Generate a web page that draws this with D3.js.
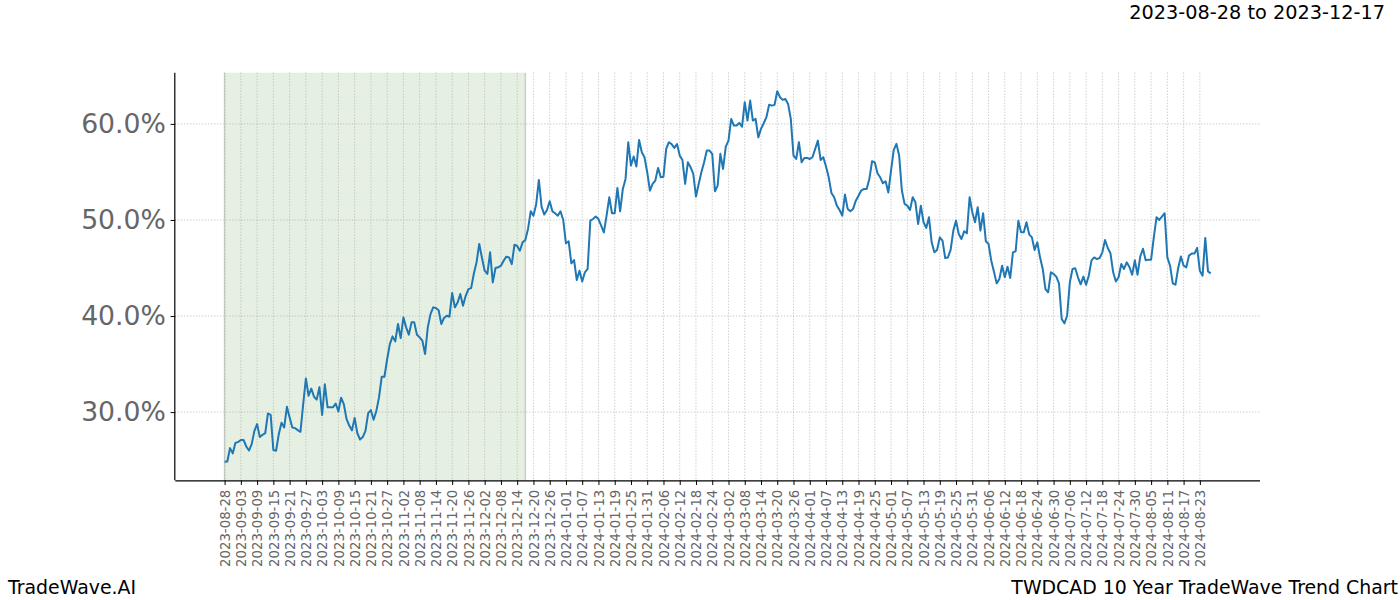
<!DOCTYPE html>
<html>
<head>
<meta charset="utf-8">
<script src="https://cdn.jsdelivr.net/npm/d3@7"></script>
<style>
  html, body { margin: 0; padding: 0; background: #fff; }
  svg { display: block; font-family: "DejaVu Sans", sans-serif; }
</style>
</head>
<body>
<svg id="chart" width="1400" height="600"></svg>
<script>
// ---- data ----
const tickLabels = [
  "2023-08-28","2023-09-03","2023-09-09","2023-09-15","2023-09-21","2023-09-27",
  "2023-10-03","2023-10-09","2023-10-15","2023-10-21","2023-10-27","2023-11-02",
  "2023-11-08","2023-11-14","2023-11-20","2023-11-26","2023-12-02","2023-12-08",
  "2023-12-14","2023-12-20","2023-12-26","2024-01-01","2024-01-07","2024-01-13",
  "2024-01-19","2024-01-25","2024-01-31","2024-02-06","2024-02-12","2024-02-18",
  "2024-02-24","2024-03-02","2024-03-08","2024-03-14","2024-03-20","2024-03-26",
  "2024-04-01","2024-04-07","2024-04-13","2024-04-19","2024-04-25","2024-05-01",
  "2024-05-07","2024-05-13","2024-05-19","2024-05-25","2024-05-31","2024-06-06",
  "2024-06-12","2024-06-18","2024-06-24","2024-06-30","2024-07-06","2024-07-12",
  "2024-07-18","2024-07-24","2024-07-30","2024-08-05","2024-08-11","2024-08-17",
  "2024-08-23"
];
const tickStep = 6; // data points between labelled ticks

// daily trend values (%), first point 2023-08-28
const values = [
  24.83,24.86,26.25,25.7,26.8,26.88,27.1,27.1,26.42,26.0,
  26.67,28.05,28.75,27.4,27.64,27.8,29.86,29.72,26.04,25.97,
  27.7,28.9,28.4,30.55,29.44,28.4,28.33,28.13,27.95,30.8,
  33.5,31.7,32.45,31.6,31.3,32.6,29.7,32.9,30.5,30.5,
  30.5,30.9,30.07,31.5,30.83,29.3,28.6,28.1,29.4,27.8,
  27.15,27.4,28.05,29.9,30.2,29.2,30.1,31.53,33.68,33.68,
  35.5,37.08,37.88,37.36,39.17,37.7,39.86,38.82,38.06,39.34,
  39.34,38.06,37.78,37.43,36.04,38.82,40.2,40.9,40.83,40.6,
  39.17,39.8,40.03,39.93,42.4,40.9,41.4,42.3,41.08,42.1,
  42.8,42.9,44.4,45.6,47.5,46.04,44.72,44.38,46.63,43.5,
  45.0,45.07,45.24,45.76,46.18,46.1,45.4,47.43,47.3,46.8,
  47.67,47.9,49.06,50.9,50.45,51.6,54.17,51.39,50.56,51.04,
  51.94,50.9,50.7,50.45,50.9,50.0,47.57,47.78,45.49,45.83,
  43.75,44.72,43.6,44.55,44.9,49.93,50.1,50.35,50.1,49.4,
  48.7,50.45,52.36,50.7,50.7,53.33,50.9,53.23,54.27,58.09,
  55.66,56.6,55.56,58.33,57.05,56.53,54.97,53.06,53.75,54.1,
  55.42,54.44,54.5,57.4,58.09,57.9,57.5,57.9,56.7,56.25,
  53.75,56.0,55.49,54.8,52.43,53.75,54.97,56.0,57.22,57.22,
  56.88,52.99,53.58,56.88,55.31,57.64,58.26,60.52,59.83,59.83,
  60.1,59.7,62.26,60.35,62.43,60.35,60.52,58.6,59.48,60.07,
  60.7,62.0,61.9,61.98,63.4,62.78,62.5,62.6,62.08,60.52,
  56.7,56.35,58.09,56.0,56.46,56.46,56.35,56.53,57.4,58.26,
  56.25,56.53,55.56,54.44,52.81,52.36,51.49,51.04,50.45,52.64,
  51.15,50.9,51.15,52.01,52.53,53.06,53.23,53.23,54.27,56.11,
  56.0,54.86,54.44,53.82,54.03,52.85,55.14,57.29,57.92,56.7,
  53.06,51.67,51.49,51.04,52.36,51.84,49.58,51.49,49.76,49.17,
  50.28,47.67,46.63,46.88,48.19,47.85,46.04,46.1,46.88,48.89,
  49.93,48.54,48.02,48.82,48.61,52.36,50.8,49.76,51.32,48.89,
  50.7,47.78,47.5,45.76,44.6,43.4,43.85,45.24,44.03,45.14,
  43.96,46.63,46.74,49.93,48.71,48.71,49.76,48.5,48.19,46.88,
  47.67,46.11,44.9,42.81,42.47,44.55,44.38,44.1,43.4,39.69,
  39.24,40.03,43.5,44.9,44.97,44.03,43.3,44.1,43.26,44.2,
  45.8,46.1,45.93,46.04,46.63,47.92,47.08,46.53,44.55,43.6,
  44.03,45.42,44.9,45.59,45.1,44.3,45.8,44.3,46.2,47.0,
  45.8,45.87,45.87,48.2,50.28,50.0,50.35,50.7,46.1,45.24,
  43.4,43.26,45.0,46.2,45.24,45.07,46.3,46.5,46.5,47.1,
  44.7,44.2,48.13,44.65,44.44
];
const yTicks = [30, 40, 50, 60];
const shadeRange = ["2023-08-28", "2023-12-17"];
const titleText = "2023-08-28 to 2023-12-17";
const footLeft = "TradeWave.AI";
const footRight = "TWDCAD 10 Year TradeWave Trend Chart";

// ---- layout ----
const L = 175.3, R = 1260, T = 72.7, B = 480.3;
const svg = d3.select("#chart");

const n = values.length;
const pad = (n - 1) * 0.05;
const x = d3.scaleLinear().domain([-pad, n - 1 + pad]).range([L, R]);
const yMin = d3.min(values), yMax = d3.max(values);
const yPad = (yMax - yMin) * 0.05;
const y = d3.scaleLinear().domain([yMin - yPad, yMax + yPad]).range([B, T]);

// shaded span
const parse = d3.utcParse("%Y-%m-%d");
const s0 = d3.utcDay.count(parse(tickLabels[0]), parse(shadeRange[0]));
const s1 = d3.utcDay.count(parse(tickLabels[0]), parse(shadeRange[1]));
svg.append("rect")
  .attr("x", x(s0)).attr("y", T)
  .attr("width", x(s1) - x(s0)).attr("height", B - T)
  .attr("fill", "#e5f0e3");
[s0, s1].forEach(s => {
  svg.append("line")
    .attr("x1", x(s)).attr("x2", x(s)).attr("y1", T).attr("y2", B)
    .attr("stroke", "#c9d2c8").attr("stroke-width", 1.6);
});

// grid
const tickIdx = tickLabels.map((d, i) => i * tickStep);
svg.append("g").selectAll("line").data(tickIdx).join("line")
  .attr("x1", d => x(d)).attr("x2", d => x(d)).attr("y1", T).attr("y2", B)
  .attr("stroke", "#a8a8a8").attr("stroke-width", 0.8).attr("stroke-dasharray", "1,2");
svg.append("g").selectAll("line").data(yTicks).join("line")
  .attr("x1", L).attr("x2", R).attr("y1", d => y(d)).attr("y2", d => y(d))
  .attr("stroke", "#a8a8a8").attr("stroke-width", 0.8).attr("stroke-dasharray", "1,2");

// line
const line = d3.line().x((d, i) => x(i)).y(d => y(d));
svg.append("path").datum(values)
  .attr("d", line).attr("fill", "none")
  .attr("stroke", "#1f77b4").attr("stroke-width", 2)
  .attr("stroke-linejoin", "round").attr("stroke-linecap", "butt");

// axes
const xAxis = d3.axisBottom(x).tickValues(tickIdx)
  .tickFormat((d, i) => tickLabels[i]).tickSize(4.7).tickPadding(4.7);
const gx = svg.append("g").attr("transform", `translate(0,${B})`).call(xAxis);
gx.select(".domain").attr("d", `M${L},0.5H${R}`).attr("stroke", "#000").attr("stroke-width", 1.2);
gx.selectAll(".tick line").attr("stroke", "#000").attr("stroke-width", 1);
gx.selectAll(".tick text")
  .attr("font-family", "DejaVu Sans").attr("font-size", "13.3px").attr("fill", "#666")
  .attr("transform", "rotate(-90)")
  .attr("text-anchor", "end")
  .attr("x", -9.4).attr("y", 0).attr("dy", "0.35em");

const yAxis = d3.axisLeft(y).tickValues(yTicks)
  .tickFormat(d => d3.format(".1f")(d) + "%").tickSize(4.7).tickPadding(4.7);
const gy = svg.append("g").attr("transform", `translate(${L},0)`).call(yAxis);
gy.select(".domain").attr("d", `M-0.5,${T}V${B}`).attr("stroke", "#000").attr("stroke-width", 1.2);
gy.selectAll(".tick line").attr("stroke", "#000").attr("stroke-width", 1);
gy.selectAll(".tick text")
  .attr("font-family", "DejaVu Sans").attr("font-size", "26.7px").attr("fill", "#666");

// texts
svg.append("text").attr("x", 1385).attr("y", 19)
  .attr("text-anchor", "end").attr("font-size", "19.3px").attr("fill", "#000")
  .text(titleText);
svg.append("text").attr("x", 8).attr("y", 594)
  .attr("text-anchor", "start").attr("font-size", "18.9px").attr("fill", "#000")
  .text(footLeft);
svg.append("text").attr("x", 1398).attr("y", 594)
  .attr("text-anchor", "end").attr("font-size", "18.9px").attr("fill", "#000")
  .text(footRight);
</script>
</body>
</html>
